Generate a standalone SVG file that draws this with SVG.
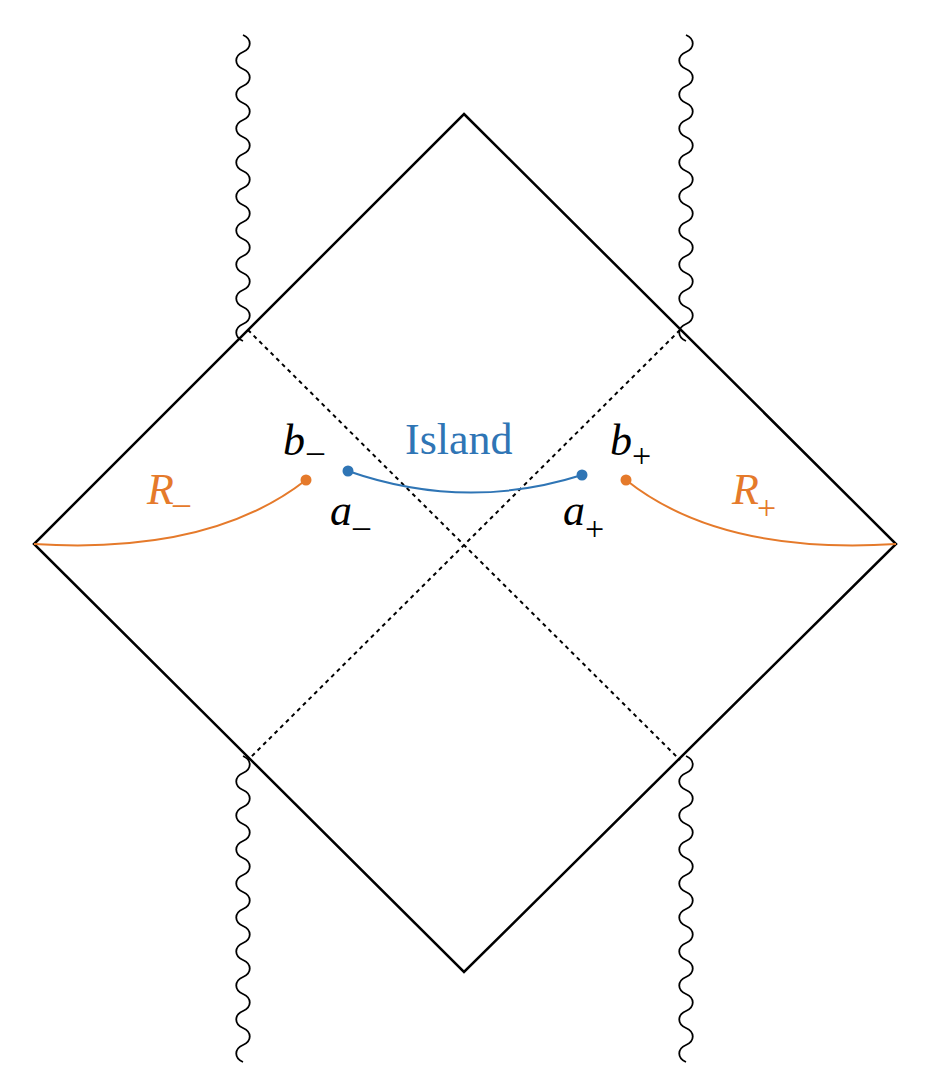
<svg xmlns="http://www.w3.org/2000/svg" width="932" height="1090" viewBox="0 0 932 1090">
<style>
.t{font-family:"Liberation Serif",serif;font-style:italic;font-size:44px}
.s{font-family:"Liberation Serif",serif;font-size:34px}
.o{fill:#e57a2b}.b{fill:#2f75b5}
.w{fill:none;stroke:#000;stroke-width:1.8}
</style>
<defs>
<path id="wv" class="w" d="M0,0 c9,4 9,13 0,17 c-9,4 -9,13 0,17 c9,4 9,13 0,17 c-9,4 -9,13 0,17 c9,4 9,13 0,17 c-9,4 -9,13 0,17 c9,4 9,13 0,17 c-9,4 -9,13 0,17 c9,4 9,13 0,17 c-9,4 -9,13 0,17 c9,4 9,13 0,17 c-9,4 -9,13 0,17 c9,4 9,13 0,17 c-9,4 -9,13 0,17 c9,4 9,13 0,17 c-9,4 -9,13 0,17 c9,4 9,13 0,17 c-9,4 -9,13 0,17"/>
</defs>
<rect width="932" height="1090" fill="#fff"/>
<g id="singularities">
<use href="#wv" x="243" y="35"/>
<use href="#wv" x="686" y="35"/>
<use href="#wv" x="243" y="756"/>
<use href="#wv" x="686" y="756"/>
</g>
<g id="diamond"><path d="M464,114 L896,544 L464,972 L34,544 Z" fill="none" stroke="#000" stroke-width="2.5"/></g>
<g id="connectors">
<path d="M248,330 L680,760 M680,330 L248,760" stroke="#000" stroke-width="2" stroke-dasharray="4,4" fill="none"/>
<path d="M348,471 Q465,512 582,475" fill="none" stroke="#2f75b5" stroke-width="2"/>
<path d="M34,544 Q210,555 306,480" fill="none" stroke="#e57a2b" stroke-width="2"/>
<path d="M626,480 Q720,555 896,544" fill="none" stroke="#e57a2b" stroke-width="2"/>
</g>
<g id="points">
<circle cx="306" cy="480" r="5.5" class="o"/>
<circle cx="348" cy="471" r="5.5" class="b"/>
<circle cx="582" cy="475" r="5.5" class="b"/>
<circle cx="626" cy="480" r="5.5" class="o"/>
</g>
<g id="labels">
<text x="283" y="455" class="t">b</text><text x="307" y="462" class="s">–</text>
<text x="610" y="455" class="t">b</text><text x="632" y="467" class="s">+</text>
<text x="330" y="525" class="t">a</text><text x="353" y="537" class="s">–</text>
<text x="563" y="525" class="t">a</text><text x="585" y="540" class="s">+</text>
<text x="147" y="504" class="t o">R</text><text x="173" y="514" class="s o">–</text>
<text x="732" y="504" class="t o">R</text><text x="757" y="519" class="s o">+</text>
<text x="405" y="454" font-family="Liberation Serif,serif" font-size="44" class="b">Island</text>
</g>
</svg>
